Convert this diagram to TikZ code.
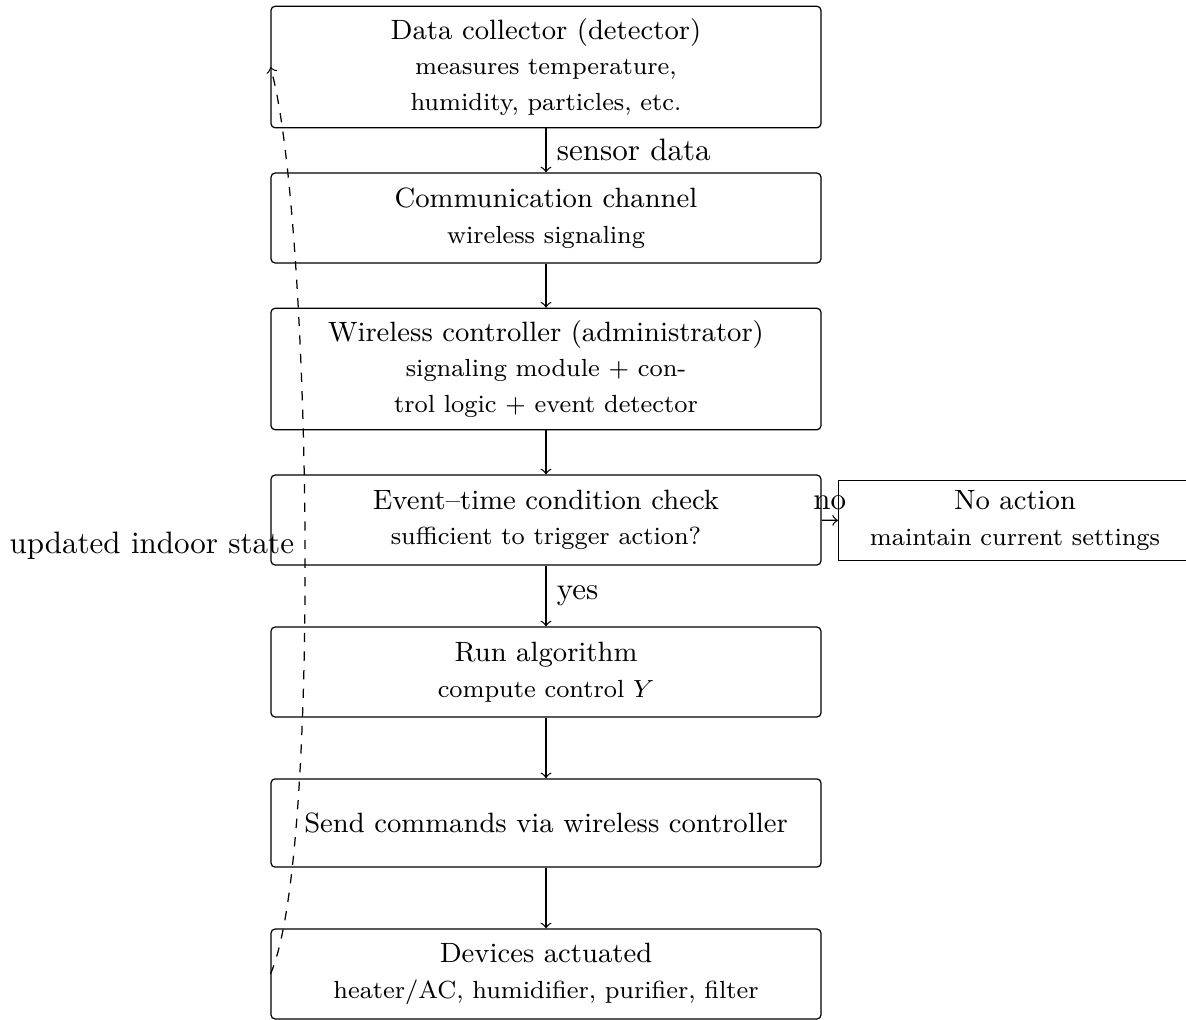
\documentclass[tikz,border=0pt]{standalone}
\usetikzlibrary{calc}
\begin{document}
\begin{tikzpicture}[x=0.32258pt,y=-0.32258pt,
  box/.style={draw, rounded corners=1.3pt, align=center, font=\small,
    minimum width=177.4pt, minimum height=29pt, inner xsep=3.33pt, inner ysep=3.9pt},
  plainbox/.style={draw, align=center, font=\small, minimum width=4cm, inner sep=3.33pt},
  arr/.style={->},
  fb/.style={->, dashed}
]
\useasboundingbox (0,0) rectangle (1186,1019);
\clip (0,0) rectangle (1186,1019);

\node[box] (collector) at (546,67) {Data collector (detector)\\[0.5pt]{\footnotesize measures temperature,}\\[0.5pt]{\footnotesize humidity, particles, etc.}};
\node[box] (channel) at (546,218) {Communication channel\\[0.5pt]{\footnotesize wireless signaling}};
\node[box] (controller) at (546,369) {Wireless controller (administrator)\\[0.5pt]{\footnotesize signaling module + con-}\\[0.5pt]{\footnotesize trol logic + event detector}};
\node[box] (event) at (546,520) {Event--time condition check\\[0.5pt]{\footnotesize sufficient to trigger action?}};
\node[plainbox] (noact) at (1015,520.5) {No action\\[0.5pt]{\footnotesize maintain current settings}};
\node[box] (run) at (546,672) {Run algorithm\\[0.5pt]{\footnotesize compute control $Y$}};
\node[box, minimum height=28.45pt] (send) at (546,823) {Send commands via wireless controller};
\node[box] (devices) at (546,974) {Devices actuated\\[0.5pt]{\footnotesize heater/AC, humidifier, purifier, filter}};

\draw[arr] (collector) -- node[right] {sensor data} (channel);
\draw[arr] (channel) -- (controller);
\draw[arr] (controller) -- (event);
\draw[arr] (event) -- node[above] {no} (noact);
\draw[arr] (event) -- node[right] {yes} (run);
\draw[arr] (run) -- (send);
\draw[arr] (send) -- (devices);

\draw[fb] (devices.west) .. controls ($(devices.west)+(52,-116)$) and ($(collector.west)+(40,140)$) .. node[pos=0.486, left] {updated indoor state} (collector.west);
\end{tikzpicture}
\end{document}
